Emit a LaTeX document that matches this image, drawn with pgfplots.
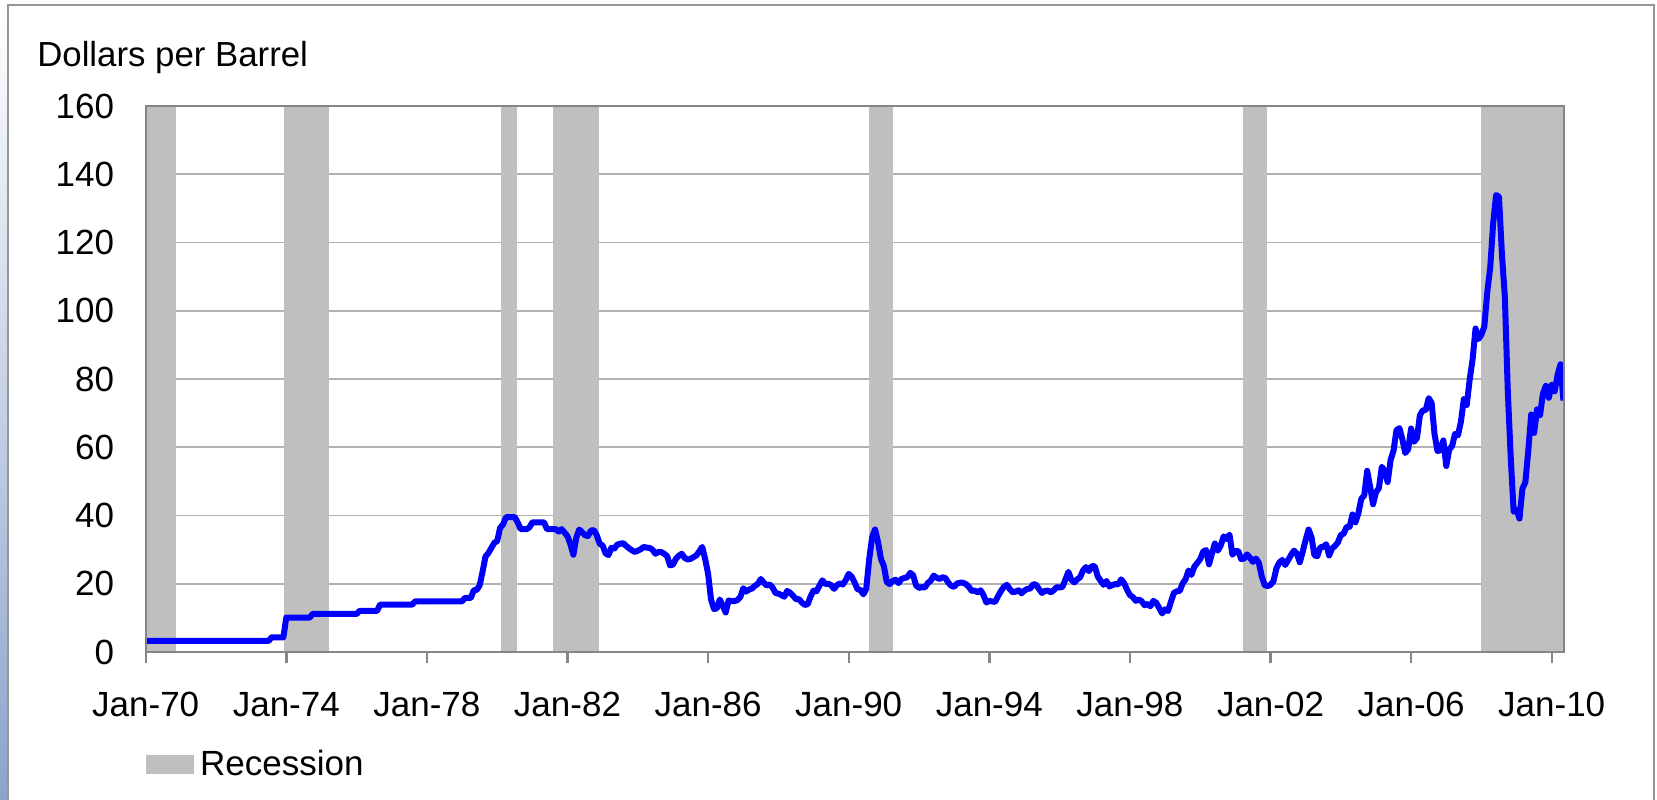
\documentclass[border=0pt]{standalone}
\usepackage{fontspec}
\setmainfont{Liberation Sans}
\usepackage{pgfplots}
\pgfplotsset{compat=1.18}
\definecolor{recgray}{RGB}{191,191,191}
\definecolor{gridgray}{RGB}{178,178,178}
\definecolor{axgray}{RGB}{134,134,134}
\definecolor{oilblue}{RGB}{0,0,255}
\definecolor{framegray}{RGB}{150,150,150}
\definecolor{slideblue}{RGB}{140,163,204}
\begin{document}
\begin{tikzpicture}
\useasboundingbox (-72.85pt,-73.5pt) rectangle (755.65pt,326pt);
\shade[top color=white, bottom color=slideblue] (-72.85pt,-73.5pt) rectangle (-69.35pt,326pt);
\fill[white] (-69.35pt,-73.5pt) rectangle (755.65pt,326pt);
\draw[framegray, line width=1pt] (-68.85pt,-80pt) -- (-68.85pt,323.5pt) -- (754.15pt,323.5pt) -- (754.15pt,-80pt);
\begin{axis}[
  at={(0,0)}, anchor=south west,
  scale only axis, width=709.15pt, height=273pt,
  xmin=1970, xmax=2010.35, ymin=0, ymax=160,
  ytick={0,20,40,60,80,100,120,140,160},
  yticklabels={0,20,40,60,80,100,120,140,160},
  xtick={1970,1974,1978,1982,1986,1990,1994,1998,2002,2006,2010},
  xticklabels={Jan-70,Jan-74,Jan-78,Jan-82,Jan-86,Jan-90,Jan-94,Jan-98,Jan-02,Jan-06,Jan-10},
  ymajorgrids,
  major grid style={gridgray, line width=0.9pt},
  axis line style={axgray, line width=1.2pt},
  xtick style={axgray, line width=1.2pt},
  ytick style={draw=none},
  xtick align=outside,
  xtick pos=lower,
  ytick pos=left,
  major tick length=5.5pt,
  ticklabel style={font=\fontsize{17.5}{20}\selectfont},
  yticklabel style={inner sep=0pt, anchor=east, xshift=-15.6pt},
  xticklabel style={inner sep=0pt, anchor=north, yshift=-14.5pt},
  legend style={at={(0,0)}, anchor=north west, yshift=-47pt, draw=none, fill=none,
    inner sep=0pt, font=\fontsize{17.5}{20}\selectfont, column sep=1pt},
  legend cell align=left,
]
\addplot[fill=recgray, draw=none, area legend,
  legend image code/.code={\fill[recgray] (0pt,-4.75pt) rectangle (24pt,4.75pt);}]
  coordinates {(1970.0,0) (1970.0,160) (1970.87,160) (1970.87,0)};
\addlegendentry{Recession}
\addplot[fill=recgray, draw=none, forget plot] coordinates {(1973.93,0) (1973.93,160) (1975.22,160) (1975.22,0)};
\addplot[fill=recgray, draw=none, forget plot] coordinates {(1980.10,0) (1980.10,160) (1980.57,160) (1980.57,0)};
\addplot[fill=recgray, draw=none, forget plot] coordinates {(1981.60,0) (1981.60,160) (1982.90,160) (1982.90,0)};
\addplot[fill=recgray, draw=none, forget plot] coordinates {(1990.58,0) (1990.58,160) (1991.25,160) (1991.25,0)};
\addplot[fill=recgray, draw=none, forget plot] coordinates {(2001.22,0) (2001.22,160) (2001.90,160) (2001.90,0)};
\addplot[fill=recgray, draw=none, forget plot] coordinates {(2008.00,0) (2008.00,160) (2010.35,160) (2010.35,0)};
\addplot[oilblue, line width=3pt, line join=round, forget plot] table {
1970.000 3.30
1973.500 3.30
1973.583 4.31
1973.917 4.31
1974.000 10.11
1974.667 10.11
1974.750 11.16
1976.000 11.16
1976.083 12.03
1976.583 12.03
1976.667 13.90
1977.583 13.90
1977.667 14.85
1979.000 14.85
1979.083 15.85
1979.250 15.85
1979.333 18.10
1979.417 18.20
1979.500 19.50
1979.583 23.50
1979.667 28.00
1979.750 29.00
1979.833 30.50
1979.917 32.00
1980.000 32.50
1980.083 36.40
1980.167 37.40
1980.250 39.50
1980.333 39.50
1980.417 39.50
1980.500 39.50
1980.583 38.00
1980.667 36.00
1980.750 36.00
1980.833 36.00
1980.917 36.50
1981.000 38.00
1981.083 38.00
1981.167 38.00
1981.250 38.00
1981.333 38.00
1981.417 36.00
1981.500 36.00
1981.583 36.00
1981.667 36.00
1981.750 35.30
1981.833 36.00
1981.917 35.00
1982.000 33.90
1982.083 31.60
1982.167 28.50
1982.250 33.50
1982.333 35.90
1982.417 35.10
1982.500 34.20
1982.583 34.00
1982.667 35.60
1982.750 35.70
1982.833 34.20
1982.917 31.70
1983.000 31.20
1983.083 28.90
1983.167 28.40
1983.250 30.60
1983.333 30.30
1983.417 31.50
1983.500 31.70
1983.583 31.90
1983.667 31.10
1983.750 30.40
1983.833 29.80
1983.917 29.30
1984.000 29.70
1984.083 30.10
1984.167 30.80
1984.250 30.60
1984.333 30.50
1984.417 30.00
1984.500 28.80
1984.583 29.30
1984.667 29.30
1984.750 28.80
1984.833 28.10
1984.917 25.40
1985.000 25.60
1985.083 27.30
1985.167 28.20
1985.250 28.80
1985.333 27.60
1985.417 27.10
1985.500 27.30
1985.583 27.80
1985.667 28.30
1985.750 29.50
1985.833 30.80
1985.917 27.20
1986.000 22.90
1986.083 15.40
1986.167 12.60
1986.250 12.80
1986.333 15.40
1986.417 13.50
1986.500 11.60
1986.583 15.10
1986.667 14.90
1986.750 14.90
1986.833 15.20
1986.917 16.10
1987.000 18.70
1987.083 17.70
1987.167 18.30
1987.250 18.60
1987.333 19.40
1987.417 20.00
1987.500 21.40
1987.583 20.30
1987.667 19.50
1987.750 19.80
1987.833 18.90
1987.917 17.30
1988.000 17.10
1988.083 16.70
1988.167 16.20
1988.250 17.90
1988.333 17.40
1988.417 16.50
1988.500 15.50
1988.583 15.50
1988.667 14.50
1988.750 13.80
1988.833 14.00
1988.917 16.30
1989.000 18.00
1989.083 17.80
1989.167 19.40
1989.250 21.00
1989.333 20.00
1989.417 20.00
1989.500 19.60
1989.583 18.50
1989.667 19.60
1989.750 20.10
1989.833 19.80
1989.917 21.10
1990.000 22.90
1990.083 22.10
1990.167 20.40
1990.250 18.40
1990.333 18.20
1990.417 16.90
1990.500 18.60
1990.583 27.20
1990.667 33.70
1990.750 35.90
1990.833 32.30
1990.917 27.30
1991.000 25.20
1991.083 20.50
1991.167 19.90
1991.250 20.80
1991.333 21.20
1991.417 20.20
1991.500 21.40
1991.583 21.70
1991.667 21.90
1991.750 23.20
1991.833 22.50
1991.917 19.50
1992.000 18.80
1992.083 19.00
1992.167 18.90
1992.250 20.20
1992.333 20.90
1992.417 22.40
1992.500 21.80
1992.583 21.40
1992.667 21.90
1992.750 21.70
1992.833 20.30
1992.917 19.40
1993.000 19.10
1993.083 20.10
1993.167 20.30
1993.250 20.30
1993.333 19.90
1993.417 19.10
1993.500 17.90
1993.583 18.00
1993.667 17.50
1993.750 18.10
1993.833 16.70
1993.917 14.50
1994.000 15.00
1994.083 14.80
1994.167 14.70
1994.250 16.40
1994.333 17.90
1994.417 19.10
1994.500 19.70
1994.583 18.40
1994.667 17.50
1994.750 17.70
1994.833 18.10
1994.917 17.20
1995.000 18.00
1995.083 18.50
1995.167 18.60
1995.250 19.90
1995.333 19.70
1995.417 18.40
1995.500 17.30
1995.583 17.90
1995.667 18.00
1995.750 17.50
1995.833 18.10
1995.917 19.00
1996.000 18.90
1996.083 19.10
1996.167 21.30
1996.250 23.50
1996.333 21.20
1996.417 20.40
1996.500 21.30
1996.583 21.90
1996.667 23.90
1996.750 24.90
1996.833 23.70
1996.917 25.20
1997.000 25.10
1997.083 22.20
1997.167 20.90
1997.250 19.70
1997.333 20.80
1997.417 19.20
1997.500 19.60
1997.583 19.90
1997.667 19.80
1997.750 21.30
1997.833 20.20
1997.917 18.30
1998.000 16.70
1998.083 16.10
1998.167 15.00
1998.250 15.40
1998.333 14.90
1998.417 13.70
1998.500 14.10
1998.583 13.40
1998.667 15.00
1998.750 14.40
1998.833 12.90
1998.917 11.30
1999.000 12.50
1999.083 12.00
1999.167 14.70
1999.250 17.30
1999.333 17.80
1999.417 17.90
1999.500 20.10
1999.583 21.30
1999.667 23.90
1999.750 22.60
1999.833 25.00
1999.917 26.10
2000.000 27.20
2000.083 29.40
2000.167 29.90
2000.250 25.70
2000.333 28.80
2000.417 31.80
2000.500 29.70
2000.583 31.20
2000.667 33.90
2000.750 33.10
2000.833 34.40
2000.917 28.50
2001.000 29.60
2001.083 29.60
2001.167 27.20
2001.250 27.40
2001.333 28.60
2001.417 27.60
2001.500 26.40
2001.583 27.40
2001.667 26.20
2001.750 22.20
2001.833 19.60
2001.917 19.30
2002.000 19.70
2002.083 20.70
2002.167 24.50
2002.250 26.20
2002.333 27.00
2002.417 25.50
2002.500 26.90
2002.583 28.40
2002.667 29.70
2002.750 28.90
2002.833 26.30
2002.917 29.40
2003.000 32.90
2003.083 35.90
2003.167 33.60
2003.250 28.30
2003.333 28.10
2003.417 30.70
2003.500 30.80
2003.583 31.60
2003.667 28.30
2003.750 30.30
2003.833 31.10
2003.917 32.10
2004.000 34.30
2004.083 34.70
2004.167 36.70
2004.250 36.70
2004.333 40.30
2004.417 38.00
2004.500 40.70
2004.583 44.90
2004.667 45.90
2004.750 53.10
2004.833 48.50
2004.917 43.30
2005.000 46.80
2005.083 48.00
2005.167 54.30
2005.250 53.00
2005.333 49.80
2005.417 56.30
2005.500 59.00
2005.583 65.00
2005.667 65.60
2005.750 62.40
2005.833 58.30
2005.917 59.40
2006.000 65.50
2006.083 61.60
2006.167 62.70
2006.250 69.40
2006.333 70.80
2006.417 70.90
2006.500 74.40
2006.583 73.00
2006.667 63.80
2006.750 58.90
2006.833 59.10
2006.917 62.00
2007.000 54.50
2007.083 59.30
2007.167 60.40
2007.250 63.90
2007.333 63.50
2007.417 67.50
2007.500 74.10
2007.583 72.40
2007.667 79.90
2007.750 85.80
2007.833 94.80
2007.917 91.70
2008.000 93.00
2008.083 95.40
2008.167 105.50
2008.250 112.60
2008.333 125.40
2008.417 133.90
2008.500 133.40
2008.583 116.70
2008.667 104.10
2008.750 76.60
2008.833 57.30
2008.917 41.10
2009.000 41.70
2009.083 39.10
2009.167 47.90
2009.250 49.70
2009.333 59.00
2009.417 69.60
2009.500 64.20
2009.583 71.10
2009.667 69.40
2009.750 75.70
2009.833 78.00
2009.917 74.50
2010.000 78.30
2010.083 76.40
2010.167 81.20
2010.250 84.30
2010.333 73.70
};
\draw[axgray, line width=1.2pt] (rel axis cs:0,0) rectangle (rel axis cs:1,1);
\end{axis}
\node[anchor=base west, inner sep=0pt, font=\fontsize{17.4}{20}\selectfont] at (-54.4pt,292.5pt) {Dollars per Barrel};
\end{tikzpicture}
\end{document}
